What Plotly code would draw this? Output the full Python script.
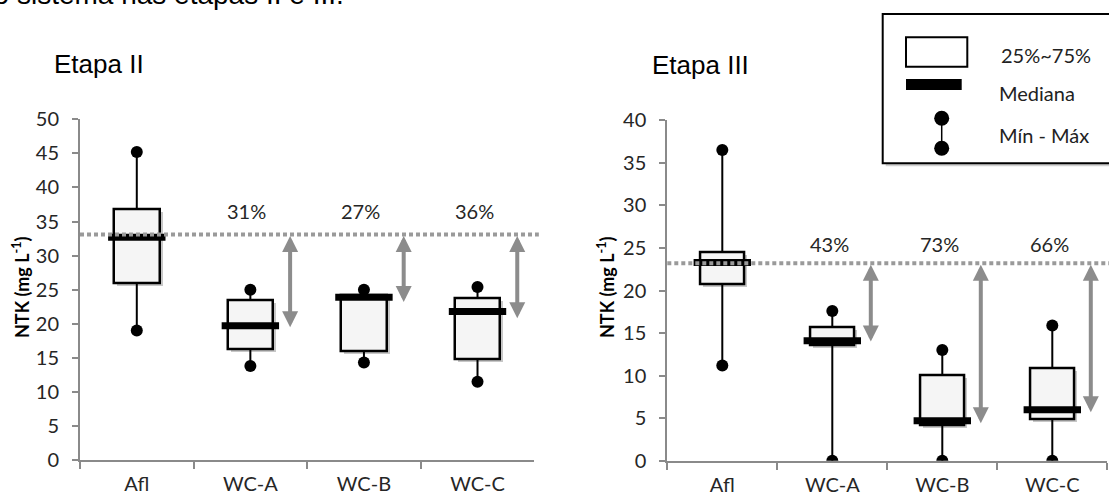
import plotly.graph_objects as go

# ---------------- data ----------------
categories = ["Afl", "WC-A", "WC-B", "WC-C"]

# Etapa II  (NTK, mg/L)
ii_min = [19.0, 13.8, 14.3, 11.5]
ii_q1 = [26.0, 16.3, 15.9, 14.8]
ii_med = [32.7, 19.7, 23.9, 21.8]
ii_q3 = [36.8, 23.5, 24.1, 23.7]
ii_max = [45.2, 25.0, 25.0, 25.4]
ii_ref = 33.1
ii_arrow_to = [19.5, 23.2, 20.8]
ii_pct = [31, 27, 36]

# Etapa III
iii_min = [11.2, 0.0, 0.0, 0.0]
iii_q1 = [20.7, 13.6, 4.2, 4.9]
iii_med = [23.3, 14.1, 4.7, 6.0]
iii_q3 = [24.5, 15.7, 10.0, 10.85]
iii_max = [36.5, 17.6, 13.0, 15.9]
iii_ref = 23.2
iii_arrow_to = [14.0, 4.4, 5.7]
iii_pct = [43, 73, 66]

W, H = 1109, 495
def px(x):
    return x / W
def py(y):
    return 1 - y / H

AXIS_GREY = "#8a8a8a"
ARROW_GREY = "#8c8c8c"
DOT_GREY = "#9a9a9a"
TXT = "#262626"
TICKFONT = dict(family="Lato", size=20, color=TXT)

# plot-area geometry (pixels)
LEFT = dict(x0=80, x1=534.3, ytop=119.3, ybot=460, ymax=50)
RIGHT = dict(x0=667.3, x1=1107.3, ytop=120.3, ybot=460.7, ymax=40)

fig = go.Figure()
annotations = []
shapes = []

def panel(xa, ya, geo, mn, q1, med, q3, mx, ref, arrow_to, pct, pct_y):
    unit_per_px = geo["ymax"] / (geo["ybot"] - geo["ytop"])
    cat_per_px = 4 / (geo["x1"] - geo["x0"])
    heights = [b - a for a, b in zip(q1, q3)]
    # soft shadow under each box
    fig.add_trace(go.Bar(
        x=categories, y=heights, base=[v - 3 * unit_per_px for v in q1], width=0.4,
        offset=-0.2 + 3 * cat_per_px,
        marker=dict(color="rgba(0,0,0,0.22)", line=dict(width=0)),
        xaxis=xa, yaxis=ya, hoverinfo="skip", showlegend=False))
    # boxes
    fig.add_trace(go.Bar(
        x=categories, y=heights, base=q1, width=0.4,
        marker=dict(color="#f5f5f5", line=dict(color="black", width=2.5)),
        xaxis=xa, yaxis=ya, hoverinfo="skip", showlegend=False))
    # whiskers
    xs, ys = [], []
    for c, a, b, c3, d in zip(categories, mn, q1, q3, mx):
        xs += [c, c, None, c, c, None]
        ys += [a, b, None, c3, d, None]
    fig.add_trace(go.Scatter(x=xs, y=ys, mode="lines",
                             line=dict(color="black", width=2),
                             xaxis=xa, yaxis=ya, hoverinfo="skip", showlegend=False))
    # medians
    fig.add_trace(go.Scatter(x=categories, y=med, mode="markers",
                             marker=dict(symbol="line-ew", size=41,
                                         line=dict(color="black", width=7)),
                             xaxis=xa, yaxis=ya, hoverinfo="skip", showlegend=False))
    # min / max
    fig.add_trace(go.Scatter(x=categories + categories, y=mn + mx, mode="markers",
                             marker=dict(symbol="circle", size=12, color="black"),
                             xaxis=xa, yaxis=ya, hoverinfo="skip", showlegend=False))
    # reference dotted line
    shapes.append(dict(type="line", xref=f"{xa} domain", yref=ya, x0=0, x1=1.01,
                       y0=ref, y1=ref, layer="above",
                       line=dict(color=DOT_GREY, width=4, dash="4px,3px")))
    # arrows + percentages
    for k, (to, p) in enumerate(zip(arrow_to, pct)):
        i = k + 1
        annotations.append(dict(
            x=i + 0.35, y=to, ax=i + 0.35, ay=ref, xref=xa, yref=ya, axref=xa, ayref=ya,
            text="", showarrow=True, arrowside="end+start", arrowhead=2, startarrowhead=2,
            arrowsize=0.8, startarrowsize=0.8, arrowwidth=4, arrowcolor=ARROW_GREY,
            standoff=0, startstandoff=0))
        annotations.append(dict(
            x=i - 0.03, y=pct_y, xref=xa, yref=ya, text=f"{p}%", showarrow=False,
            font=dict(family="Lato", size=20, color=TXT)))

panel("x", "y", LEFT, ii_min, ii_q1, ii_med, ii_q3, ii_max, ii_ref, ii_arrow_to, ii_pct, 36.5)
panel("x2", "y2", RIGHT, iii_min, iii_q1, iii_med, iii_q3, iii_max, iii_ref, iii_arrow_to,
      iii_pct, 25.5)

xcommon = dict(type="category", tickson="boundaries", ticks="outside", ticklen=7,
               tickcolor=AXIS_GREY, tickwidth=1.5, showline=True, linecolor=AXIS_GREY,
               linewidth=2, tickfont=TICKFONT, showgrid=False, zeroline=False,
               range=[-0.5, 3.5], fixedrange=True, ticklabelstandoff=5, automargin=False)
ycommon = dict(ticks="outside", ticklen=6, tickcolor=AXIS_GREY, tickwidth=1.5,
               showline=True, linecolor=AXIS_GREY, linewidth=2, tickfont=TICKFONT,
               showgrid=False, zeroline=False, dtick=5, fixedrange=True,
               ticklabelstandoff=9, automargin=False)

fig.update_layout(
    xaxis=dict(domain=[px(LEFT["x0"]), px(LEFT["x1"])], anchor="y", **xcommon),
    yaxis=dict(domain=[py(LEFT["ybot"]), py(LEFT["ytop"])], range=[0, LEFT["ymax"]],
               anchor="x", **ycommon),
    xaxis2=dict(domain=[px(RIGHT["x0"]), px(RIGHT["x1"])], anchor="y2", **xcommon),
    yaxis2=dict(domain=[py(RIGHT["ybot"]), py(RIGHT["ytop"])], range=[0, RIGHT["ymax"]],
                anchor="x2", **ycommon),
)

# y-axis titles
for xc in (21, 606):
    annotations.append(dict(x=px(xc), y=py(287), xref="paper", yref="paper",
                            xanchor="center", yanchor="middle",
                            text="<b>NTK (mg L<sup>-1</sup>)</b>", textangle=-90,
                            showarrow=False, font=dict(family="Lato", size=18, color="black")))

# panel titles
annotations.append(dict(x=px(52), y=py(64), xref="paper", yref="paper", xanchor="left",
                        yanchor="middle", text="Etapa II", showarrow=False,
                        font=dict(family="Liberation Sans", size=26, color="black")))
annotations.append(dict(x=px(650), y=py(65), xref="paper", yref="paper", xanchor="left",
                        yanchor="middle", text="Etapa III", showarrow=False,
                        font=dict(family="Liberation Sans", size=26, color="black")))
# cropped caption line at the very top
annotations.append(dict(x=px(-24), y=py(-5), xref="paper", yref="paper", xanchor="left",
                        yanchor="middle", text="do sistema nas etapas II e III.",
                        showarrow=False,
                        font=dict(family="Liberation Sans", size=28, color="black")))

# custom legend (decoration)
shapes.append(dict(type="rect", xref="paper", yref="paper", x0=px(885.7), x1=px(1125),
                   y0=py(166.3), y1=py(17), fillcolor="rgba(0,0,0,0.18)", line=dict(width=0),
                   layer="above"))
shapes.append(dict(type="rect", xref="paper", yref="paper", x0=px(882.7), x1=px(1125),
                   y0=py(163.3), y1=py(14), fillcolor="white",
                   line=dict(color="black", width=2), layer="above"))
shapes.append(dict(type="rect", xref="paper", yref="paper", x0=px(906), x1=px(967.3),
                   y0=py(66.7), y1=py(37.3), fillcolor="white",
                   line=dict(color="black", width=2), layer="above"))
shapes.append(dict(type="rect", xref="paper", yref="paper", x0=px(906), x1=px(961.7),
                   y0=py(90), y1=py(79), fillcolor="black",
                   line=dict(color="black", width=0), layer="above"))
shapes.append(dict(type="line", xref="paper", yref="paper", x0=px(941.7), x1=px(941.7),
                   y0=py(148.3), y1=py(118.3), line=dict(color="black", width=1.5),
                   layer="above"))
for cy in (118.3, 148.3):
    shapes.append(dict(type="circle", xref="paper", yref="paper",
                       x0=px(941.7 - 7.5), x1=px(941.7 + 7.5),
                       y0=py(cy + 7.5), y1=py(cy - 7.5), fillcolor="black",
                       line=dict(width=0), layer="above"))
for txt, xl, yc in (("25%~75%", 999, 55), ("Mediana", 997, 93), ("Mín - Máx", 997, 135)):
    annotations.append(dict(x=px(xl), y=py(yc), xref="paper", yref="paper",
                            xanchor="left", yanchor="middle", text=txt, showarrow=False,
                            font=dict(family="Lato", size=20, color="#222222")))

fig.update_layout(
    width=W, height=H, margin=dict(l=0, r=0, t=0, b=0, autoexpand=False),
    paper_bgcolor="white", plot_bgcolor="white",
    showlegend=False, annotations=annotations, shapes=shapes,
    barmode="overlay", bargap=0,
)

fig.write_html("out.html", config={"displayModeBar": False},
               post_script="document.body.style.margin='0px';"
                           "document.body.style.overflow='hidden';")
